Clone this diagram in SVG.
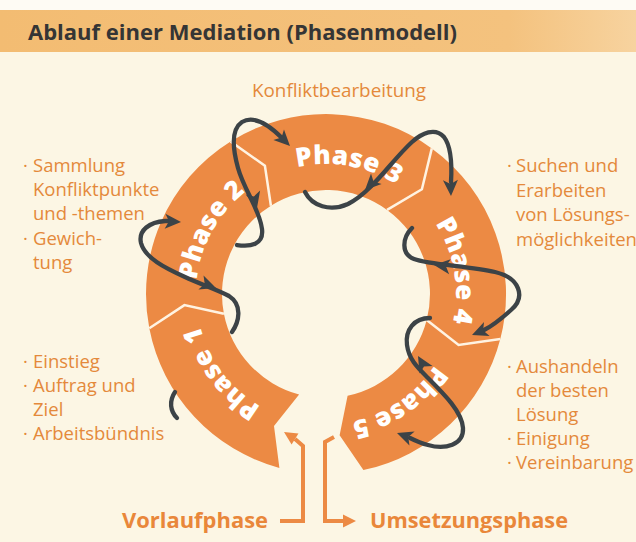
<svg xmlns="http://www.w3.org/2000/svg" xmlns:xlink="http://www.w3.org/1999/xlink" width="636" height="542" viewBox="0 0 636 542">
<style>
.seg{fill:#EC8A44}
.div{fill:none;stroke:#FFF3E2;stroke-width:2.5;stroke-linejoin:miter}
.ph{font-family:"Open Sans","Liberation Sans",sans-serif;font-weight:800;font-size:26px;fill:#FFFFFF;letter-spacing:0.3px}
.lbl{font-family:"Open Sans","Liberation Sans",sans-serif;font-size:18.5px;fill:#E4893B}
.big{font-family:"Open Sans","Liberation Sans",sans-serif;font-weight:700;font-size:22px;fill:#E9873A}
.gl{fill:none;stroke:#3C4347;stroke-width:4.3;stroke-linecap:round;stroke-linejoin:round}
.gh{fill:#3C4347}
.ol{fill:none;stroke:#EC8A44;stroke-width:4;stroke-linejoin:miter}
.oh{fill:#EC8A44}
</style>
<defs>
<linearGradient id="bar" x1="0" y1="0" x2="1" y2="0">
<stop offset="0" stop-color="#F3BC72"/>
<stop offset="0.8" stop-color="#F4C27E"/>
<stop offset="1" stop-color="#F7D39F"/>
</linearGradient>
<path id="ah" d="M0,0 L-16,-7.5 L-12,0 L-16,7.5 Z"/>
<path id="ahO" d="M0,0 L-13,-6.5 L-13,6.5 Z"/>
<path id="t1" d="M296.75,420.67 A130,130 0 0 1 196.18,287.2"/>
<path id="t2" d="M198.39,318.8 A130,130 0 0 1 279.41,172.63"/>
<path id="t3" d="M261,181.42 A130,130 0 0 1 425.58,210.44"/>
<path id="t4" d="M409.56,194.42 A130,130 0 0 1 438.58,359"/>
<path id="t5" d="M450.97,329.83 A130,130 0 0 1 312.41,423.29"/>
</defs>

<rect x="0" y="0" width="636" height="542" fill="#FCF6E4"/>
<rect x="0" y="0" width="636" height="10" fill="#FEFBF4"/>
<rect x="0" y="10" width="636" height="42" fill="url(#bar)"/>
<text x="28" y="40" font-family="Open Sans, Liberation Sans, sans-serif" font-weight="700" font-size="22" fill="#353535" textLength="429" lengthAdjust="spacingAndGlyphs">Ablauf einer Mediation (Phasenmodell)</text>

<g id="phase1">
<path class="seg" d="M279.4,467.9 A180,180 0 0 1 149.3,328.3 L184.4,305.1 L223.9,313.8 A104,104 0 0 0 299.1,394.5 L274,426.1 Z"/>
<text class="ph"><textPath href="#t1" startOffset="50%" text-anchor="middle">Phase 1</textPath></text>
</g>
<g id="phase2">
<path class="seg" d="M149.3,328.3 A180,180 0 0 1 230.6,141.4 L264.9,165.8 L270.9,205.8 A104,104 0 0 0 223.9,313.8 L184.4,305.1 Z"/>
<text class="ph"><textPath href="#t2" startOffset="50%" text-anchor="middle">Phase 2</textPath></text>
</g>
<g id="phase3">
<path class="seg" d="M230.6,141.4 A180,180 0 0 1 431.8,148.4 L421.9,189.3 L387.1,209.9 A104,104 0 0 0 270.9,205.8 L264.9,165.8 Z"/>
<text class="ph"><textPath href="#t3" startOffset="50%" text-anchor="middle">Phase 3</textPath></text>
</g>
<g id="phase4">
<path class="seg" d="M431.8,148.4 A180,180 0 0 1 500.3,339.1 L458.6,344.9 L426.7,320 A104,104 0 0 0 387.1,209.9 L421.9,189.3 Z"/>
<text class="ph"><textPath href="#t4" startOffset="50%" text-anchor="middle">Phase 4</textPath></text>
</g>
<g id="phase5">
<path class="seg" d="M500.3,339.1 A180,180 0 0 1 363.4,470.1 L339.6,435.3 L347.6,395.7 A104,104 0 0 0 426.7,320 L458.6,344.9 Z"/>
<text class="ph"><textPath href="#t5" startOffset="50%" text-anchor="middle">Phase 5</textPath></text>
</g>

<g id="dividers">
<polyline class="div" points="149.3,328.3 184.4,305.1 223.9,313.8"/>
<polyline class="div" points="230.6,141.4 264.9,165.8 270.9,205.8"/>
<polyline class="div" points="431.8,148.4 421.9,189.3 387.1,209.9"/>
<polyline class="div" points="500.3,339.1 458.6,344.9 426.7,320"/>
</g>

<g id="connectors">
<path class="gl" d="M237,245 C250,247 264,245 262,229 C260,210 244,190 238,168 C233,150 230,130 242,122 C254,115 268,124 282,138"/>
<use href="#ah" class="gh" transform="translate(290,146) rotate(45)"/>
<use href="#ah" class="gh" transform="translate(257,208) rotate(75)"/>

<path class="gl" d="M305,192 C312,206 330,212 348,204 C372,192 392,160 412,142 C422,133 435,127 444,137 C451,146 452,165 451,182"/>
<use href="#ah" class="gh" transform="translate(451,196) rotate(88)"/>
<use href="#ah" class="gh" transform="translate(365,190) rotate(135)"/>

<path class="gl" d="M412,228 C402,238 401,254 414,259 C430,265 470,266 495,272 C520,278 526,297 511,310 C501,319 492,326 484,330"/>
<use href="#ah" class="gh" transform="translate(472,335) rotate(158)"/>
<use href="#ah" class="gh" transform="translate(434,265) rotate(186)"/>

<path class="gl" d="M430,318 C414,318 405,330 407,345 C409,360 418,368 428,378 C445,395 462,412 463,428 C464,445 445,450 428,445 C420,443 414,440 410,438"/>
<use href="#ah" class="gh" transform="translate(397,433) rotate(200)"/>
<use href="#ah" class="gh" transform="translate(418,356) rotate(240)"/>

<path class="gl" d="M232,332 C239,322 243,305 229,296 C218,290 200,284 185,277 C165,268 145,258 141,243 C138,230 150,222 165,221 L168,221"/>
<use href="#ah" class="gh" transform="translate(181,222) rotate(3)"/>
<use href="#ah" class="gh" transform="translate(216,288) rotate(20)"/>

<path class="gl" d="M175,392 C169,401 170,411 177,418"/>

<path class="ol" d="M280,521 H303 V446 L295,439"/>
<use href="#ahO" class="oh" transform="translate(284,432) rotate(212)"/>
<path class="ol" d="M334,437 L325,442 V521 H343"/>
<use href="#ahO" class="oh" transform="translate(356,521)"/>
</g>

<g id="labels">
<text class="lbl" x="252" y="97" textLength="174" lengthAdjust="spacingAndGlyphs">Konfliktbearbeitung</text>
<text class="lbl"><tspan x="23" y="172">·</tspan><tspan x="33" y="172">Sammlung</tspan><tspan x="33" y="196">Konfliktpunkte</tspan><tspan x="33" y="220">und -themen</tspan><tspan x="23" y="245">·</tspan><tspan x="33" y="245">Gewich-</tspan><tspan x="33" y="269">tung</tspan></text>
<text class="lbl"><tspan x="23" y="368">·</tspan><tspan x="33" y="368">Einstieg</tspan><tspan x="23" y="392">·</tspan><tspan x="33" y="392">Auftrag und</tspan><tspan x="33" y="416">Ziel</tspan><tspan x="23" y="440">·</tspan><tspan x="33" y="440">Arbeitsbündnis</tspan></text>
<text class="lbl"><tspan x="507" y="172">·</tspan><tspan x="516" y="172">Suchen und</tspan><tspan x="516" y="197">Erarbeiten</tspan><tspan x="516" y="221">von Lösungs-</tspan><tspan x="516" y="246">möglichkeiten</tspan></text>
<text class="lbl"><tspan x="507" y="373">·</tspan><tspan x="516" y="373">Aushandeln</tspan><tspan x="516" y="397">der besten</tspan><tspan x="516" y="421">Lösung</tspan><tspan x="507" y="445">·</tspan><tspan x="516" y="445">Einigung</tspan><tspan x="507" y="469">·</tspan><tspan x="516" y="469">Vereinbarung</tspan></text>
<text class="big" x="122" y="528" textLength="146" lengthAdjust="spacingAndGlyphs">Vorlaufphase</text>
<text class="big" x="370" y="528" textLength="198" lengthAdjust="spacingAndGlyphs">Umsetzungsphase</text>
</g>
</svg>
